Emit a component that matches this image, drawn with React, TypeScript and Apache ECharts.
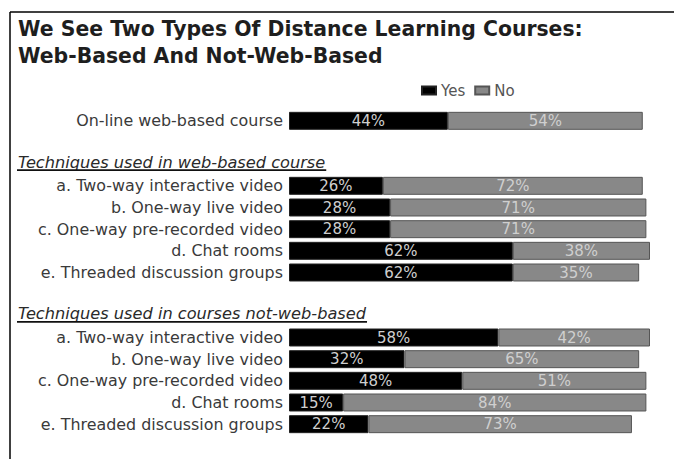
import React, { useEffect, useRef } from "react";
import * as echarts from "echarts";

const titleLines = [
  "We See Two Types Of Distance Learning Courses:",
  "Web-Based And Not-Web-Based",
];
const seriesNames = ["Yes", "No"];

const onlineLabels = ["On-line web-based course"];
const onlineYes = [44];
const onlineNo = [54];

const sectionHeaders = [
  "Techniques used in web-based course",
  "Techniques used in courses not-web-based",
];

const webLabels = [
  "a. Two-way interactive video",
  "b. One-way live video",
  "c. One-way pre-recorded video",
  "d. Chat rooms",
  "e. Threaded discussion groups",
];
const webYes = [26, 28, 28, 62, 62];
const webNo = [72, 71, 71, 38, 35];

const notWebLabels = [
  "a. Two-way interactive video",
  "b. One-way live video",
  "c. One-way pre-recorded video",
  "d. Chat rooms",
  "e. Threaded discussion groups",
];
const notWebYes = [58, 32, 48, 15, 22];
const notWebNo = [42, 65, 51, 84, 73];

const FONT = "'DejaVu Sans', 'Liberation Sans', Arial, sans-serif";

export default function App() {
  const ref = useRef<HTMLDivElement>(null);

  useEffect(() => {
    document.body.style.margin = "0";
    if (!ref.current) return;
    const chart = echarts.init(ref.current, null, { renderer: "svg" });

    type Row = { label: string; yes: number | string; no: number | string; header?: boolean };
    const rows: Row[] = [];
    onlineLabels.forEach((l, i) => rows.push({ label: l, yes: onlineYes[i], no: onlineNo[i] }));
    rows.push({ label: " ", yes: "-", no: "-" });
    rows.push({ label: sectionHeaders[0], yes: "-", no: "-", header: true });
    webLabels.forEach((l, i) => rows.push({ label: l, yes: webYes[i], no: webNo[i] }));
    rows.push({ label: "  ", yes: "-", no: "-" });
    rows.push({ label: sectionHeaders[1], yes: "-", no: "-", header: true });
    notWebLabels.forEach((l, i) => rows.push({ label: l, yes: notWebYes[i], no: notWebNo[i] }));

    const headerIdx = rows.map((r, i) => (r.header ? i : -1)).filter((i) => i >= 0);

    const barLabel = {
      show: true,
      position: "inside" as const,
      formatter: "{c}%",
      color: "#cfcfcf",
      fontFamily: FONT,
      fontSize: 15,
    };

    const option: any = {
      animation: false,
      backgroundColor: "#fff",
      title: {
        text: titleLines.join("\n"),
        left: 18,
        top: 15,
        padding: 0,
        textStyle: {
          fontFamily: FONT,
          fontWeight: "bold",
          fontSize: 20.4,
          lineHeight: 27,
          color: "#1e1e1e",
        },
      },
      legend: {
        data: seriesNames,
        left: 421,
        top: 83,
        padding: 0,
        itemWidth: 14,
        itemHeight: 8,
        itemGap: 9,
        icon: "rect",
        textStyle: { fontFamily: FONT, fontSize: 15, color: "#555" },
      },
      grid: { left: 289, right: 24, top: 110, bottom: 24, containLabel: false },
      xAxis: {
        type: "value",
        min: 0,
        max: 100,
        show: false,
      },
      yAxis: {
        type: "category",
        inverse: true,
        data: rows.map((r) => r.label),
        axisLine: { show: false },
        axisTick: { show: false },
        splitLine: { show: false },
        axisLabel: {
          margin: 6,
          fontFamily: FONT,
          fontSize: 15.9,
          color: "#3a3a3a",
          interval: 0,
          formatter: (v: string, i: number) => (rows[i] && rows[i].header ? "" : v),
        },
      },
      series: [
        {
          name: seriesNames[0],
          type: "bar",
          stack: "total",
          barCategoryGap: "17%",
          data: rows.map((r) => r.yes),
          itemStyle: { color: "#000", borderColor: "#222", borderWidth: 1 },
          label: barLabel,
        },
        {
          name: seriesNames[1],
          type: "bar",
          stack: "total",
          barCategoryGap: "17%",
          data: rows.map((r) => r.no),
          itemStyle: { color: "#888", borderColor: "#555", borderWidth: 1 },
          label: barLabel,
        },
      ],
    };

    chart.setOption(option);

    const canvas = document.createElement("canvas");
    const ctx = canvas.getContext("2d");
    const headerFontSize = 16.2;
    const graphics: any[] = [
      {
        type: "line",
        shape: { x1: 10, y1: 12, x2: 674, y2: 12 },
        style: { stroke: "#000", lineWidth: 1.5 },
      },
      {
        type: "line",
        shape: { x1: 10, y1: 12, x2: 10, y2: 459 },
        style: { stroke: "#000", lineWidth: 1.5 },
      },
    ];
    headerIdx.forEach((idx) => {
      const y = chart.convertToPixel({ yAxisIndex: 0 }, idx) as number;
      const text = rows[idx].label;
      let w = text.length * 8.8;
      if (ctx) {
        ctx.font = `italic ${headerFontSize}px 'DejaVu Sans'`;
        w = ctx.measureText(text).width;
      }
      graphics.push({
        type: "text",
        x: 18,
        y: y - 2,
        style: {
          text,
          fontFamily: FONT,
          fontSize: headerFontSize,
          fontStyle: "italic",
          fill: "#2a2a2a",
          verticalAlign: "middle",
          align: "left",
        },
      });
      graphics.push({
        type: "line",
        shape: { x1: 17, y1: y + 6, x2: 18 + w + 1, y2: y + 6 },
        style: { stroke: "#111", lineWidth: 1.6 },
      });
    });
    chart.setOption({ graphic: graphics });

    return () => chart.dispose();
  }, []);

  return <div ref={ref} style={{ width: 674, height: 459 }} />;
}
